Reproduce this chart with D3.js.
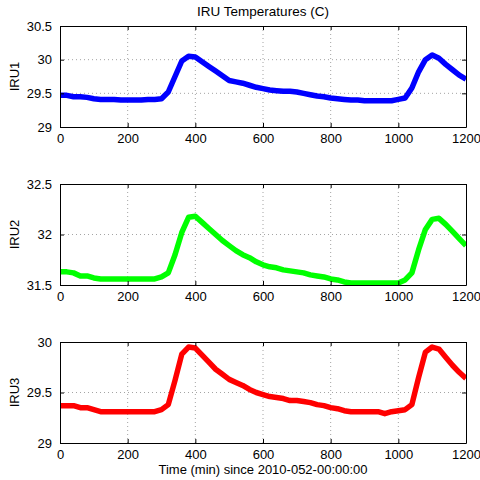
<!DOCTYPE html>
<html>
<head>
<meta charset="utf-8">
<script src="https://cdn.jsdelivr.net/npm/d3@7"></script>
<style>
  body { margin: 0; background: #fff; }
  text { font-family: "Liberation Sans", Arial, sans-serif; }
</style>
</head>
<body>
<div id="chart"></div>
<script>
// time in minutes since 2010-052-00:00:00
var times = [0,20,40,60,80,100,120,140,160,180,200,220,240,260,280,300,320,340,360,380,
  400,420,440,460,480,500,520,540,560,580,600,620,640,660,680,700,720,740,760,780,
  800,820,840,860,880,900,920,940,960,980,1000,1020,1040,1060,1080,1100,1120,1140,1160,1180,1200]

var iru1 = [29.47,29.47,29.45,29.45,29.44,29.42,29.41,29.41,29.41,29.40,29.40,29.40,29.40,29.41,29.41,29.42,29.52,29.75,29.98,30.05,
  30.04,29.97,29.90,29.83,29.76,29.69,29.67,29.65,29.62,29.59,29.57,29.55,29.54,29.53,29.53,29.52,29.50,29.48,29.46,29.45,
  29.43,29.42,29.41,29.40,29.40,29.39,29.39,29.39,29.39,29.39,29.41,29.43,29.58,29.82,30.00,30.07,30.02,29.93,29.85,29.77,29.71]

var iru2 = [31.63,31.63,31.62,31.59,31.59,31.57,31.56,31.56,31.56,31.56,31.56,31.56,31.56,31.56,31.56,31.58,31.62,31.80,32.02,32.17,
  32.18,32.12,32.06,32.00,31.94,31.89,31.84,31.80,31.77,31.73,31.70,31.68,31.67,31.65,31.64,31.63,31.62,31.60,31.59,31.58,
  31.56,31.55,31.53,31.52,31.52,31.52,31.52,31.52,31.52,31.52,31.52,31.55,31.62,31.85,32.05,32.15,32.16,32.10,32.03,31.96,31.89]

var iru3 = [29.37,29.37,29.37,29.35,29.35,29.33,29.31,29.31,29.31,29.31,29.31,29.31,29.31,29.31,29.31,29.33,29.38,29.62,29.88,29.95,
  29.94,29.87,29.80,29.73,29.68,29.63,29.60,29.57,29.53,29.50,29.48,29.46,29.45,29.44,29.42,29.42,29.41,29.40,29.38,29.37,
  29.35,29.34,29.32,29.31,29.31,29.31,29.31,29.31,29.29,29.31,29.32,29.33,29.38,29.65,29.90,29.95,29.93,29.85,29.77,29.70,29.64]

var xTicks = [0,200,400,600,800,1000,1200]
var panels = [
  {name: "IRU1", values: iru1, color: "#0000ff", domain: [29, 30.5], ticks: [29, 29.5, 30, 30.5]},
  {name: "IRU2", values: iru2, color: "#00ff00", domain: [31.5, 32.5], ticks: [31.5, 32, 32.5]},
  {name: "IRU3", values: iru3, color: "#ff0000", domain: [29, 30], ticks: [29, 29.5, 30]}
]
var panelTops = [26, 184, 342]

var W = 480, H = 480
var margin = {left: 60, right: 14}
var width = W - margin.left - margin.right
var height = 101

var svg = d3.select("#chart").append("svg")
  .attr("width", W).attr("height", H)

var x = d3.scaleLinear().domain([0, 1200]).range([0, width])

svg.append("text")
  .attr("x", 263).attr("y", 16)
  .attr("text-anchor", "middle")
  .style("font-size", "13.5px")
  .text("IRU Temperatures (C)")

panels.forEach(function(p, i){
  var g = svg.append("g")
    .attr("transform", "translate(" + margin.left + "," + panelTops[i] + ")")
  var y = d3.scaleLinear().domain(p.domain).range([height, 0])

  // grid
  g.selectAll(".gx").data(xTicks.slice(1, -1)).enter().append("line")
    .attr("x1", function(d){ return x(d) }).attr("x2", function(d){ return x(d) })
    .attr("y1", 0).attr("y2", height)
    .attr("stroke", "#666").attr("stroke-width", 0.6).attr("stroke-dasharray", "1,3")
  g.selectAll(".gy").data(p.ticks.slice(1, -1)).enter().append("line")
    .attr("x1", 0).attr("x2", width)
    .attr("y1", function(d){ return y(d) }).attr("y2", function(d){ return y(d) })
    .attr("stroke", "#666").attr("stroke-width", 0.6).attr("stroke-dasharray", "1,3")

  // data line, clipped to the axes box
  g.append("clipPath").attr("id", "clip" + i)
    .append("rect").attr("width", width).attr("height", height)
  var line = d3.line()
    .x(function(d, j){ return x(times[j]) })
    .y(function(d){ return y(d) })
  g.append("path")
    .datum(p.values)
    .attr("clip-path", "url(#clip" + i + ")")
    .attr("fill", "none")
    .attr("stroke", p.color)
    .attr("stroke-width", 5.5)
    .attr("stroke-linejoin", "round")
    .attr("d", line)

  // axes, ticks inside on all sides
  var bottom = g.append("g").attr("transform", "translate(0," + height + ")")
    .call(d3.axisBottom(x).tickValues(xTicks).tickSizeInner(-4).tickSizeOuter(0).tickPadding(7).tickFormat(d3.format("d")))
  var top = g.append("g")
    .call(d3.axisTop(x).tickValues(xTicks).tickSizeInner(-4).tickSizeOuter(0).tickFormat(""))
  var left = g.append("g")
    .call(d3.axisLeft(y).tickValues(p.ticks).tickSizeInner(-4).tickSizeOuter(0).tickPadding(8).tickFormat(d3.format("")))
  var right = g.append("g").attr("transform", "translate(" + width + ",0)")
    .call(d3.axisRight(y).tickValues(p.ticks).tickSizeInner(-4).tickSizeOuter(0).tickFormat(""))
  ;[bottom, top, left, right].forEach(function(a){
    a.select(".domain").attr("stroke", "#000")
    a.selectAll("text").style("font-size", "13px").attr("fill", "#000")
      .style("font-family", "'Liberation Sans', Arial, sans-serif")
  })

  g.append("text")
    .attr("transform", "translate(-41," + (height / 2) + ") rotate(-90)")
    .attr("text-anchor", "middle")
    .style("font-size", "13px")
    .text(p.name)
})

svg.append("text")
  .attr("x", 263).attr("y", 474)
  .attr("text-anchor", "middle")
  .style("font-size", "13px")
  .text("Time (min) since 2010-052-00:00:00")
</script>
</body>
</html>
